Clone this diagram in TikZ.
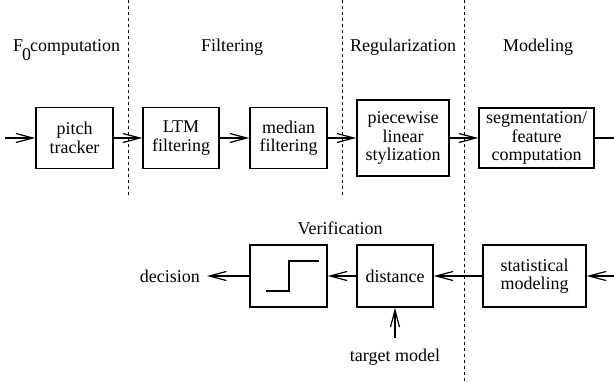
\documentclass[tikz,border=0pt]{standalone}
\usepackage{fontspec}
\setmainfont{Liberation Serif}
\usetikzlibrary{arrows.meta}
\begin{document}
\begin{tikzpicture}[x=1pt,y=-1pt,
  every node/.style={font=\fontsize{18}{18.5}\selectfont},
  blk/.style={draw,line width=1.5pt,inner sep=0pt,align=center},
  conn/.style={line width=1.5pt,-{Straight Barb[length=17pt,width=9pt,line width=1.2pt]}},
  plain/.style={line width=1.5pt},
  sep/.style={line width=0.8pt,dash pattern=on 3pt off 3pt},
  lbl/.style={inner sep=0pt}]
\useasboundingbox (0,0) rectangle (614,381);
% separators
\draw[sep] (128,0) -- (128,198);
\draw[sep] (342,0) -- (342,198);
\draw[sep] (464,0) -- (464,381);
% headings
\node[lbl,anchor=base west] (hF) at (13,51) {F\kern-1pt\raisebox{-9pt}{0}\kern-1pt computation};
\node[lbl,anchor=base] (hFilt) at (232,51) {Filtering};
\node[lbl,anchor=base] (hReg) at (403,51) {Regularization};
\node[lbl,anchor=base] (hMod) at (538,51) {Modeling};
\node[lbl,anchor=base] (hVer) at (340,234) {Verification};
% top row
\node[blk,minimum width=77pt,minimum height=61pt] (pitch) at (74.5,138) {pitch\\tracker};
\node[blk,minimum width=76pt,minimum height=61pt] (ltm) at (181,138) {LTM\\filtering};
\node[blk,minimum width=77pt,minimum height=61pt] (median) at (288.5,138) {median\\filtering};
\node[blk,minimum width=92pt,minimum height=76pt] (piece) at (403,138) {piecewise\\linear\\stylization};
\node[blk,minimum width=115pt,minimum height=60pt] (seg) at (536.5,138) {segmentation/\\feature\\computation};
\coordinate (in) at (5,138);
\coordinate (segout) at (614,138);
% bottom row
\node[blk,minimum width=77pt,minimum height=62pt] (step) at (288.5,276) {};
\node[blk,minimum width=76pt,minimum height=62pt] (dist) at (395,276) {\raisebox{-2pt}{distance}};
\node[blk,minimum width=103pt,minimum height=62pt] (stat) at (534.5,276) {statistical\\modeling};
\coordinate (statin) at (614,276);
\node[lbl,anchor=east] (dec) at (200,276) {decision};
\node[lbl,anchor=base] (target) at (395,361) {target model};
% step function
\draw[plain] (266,291) -- (289,291) -- (289,261) -- (319,261);
% connectors
\draw[conn] (in) -- (pitch.west);
\draw[conn] (pitch.east) -- (ltm.west);
\draw[conn] (ltm.east) -- (median.west);
\draw[conn] (median.east) -- (piece.west);
\draw[conn] (piece.east) -- (seg.west);
\draw[plain] (seg.east) -- (segout);
\draw[conn] (statin) -- (stat.east);
\draw[conn] (stat.west) -- (dist.east);
\draw[conn] (dist.west) -- (step.east);
\draw[conn,shorten >=7pt] (step.west) -- (dec.east);
\draw[conn,shorten <=10pt] (target.north) -- (dist.south);
\end{tikzpicture}
\end{document}
